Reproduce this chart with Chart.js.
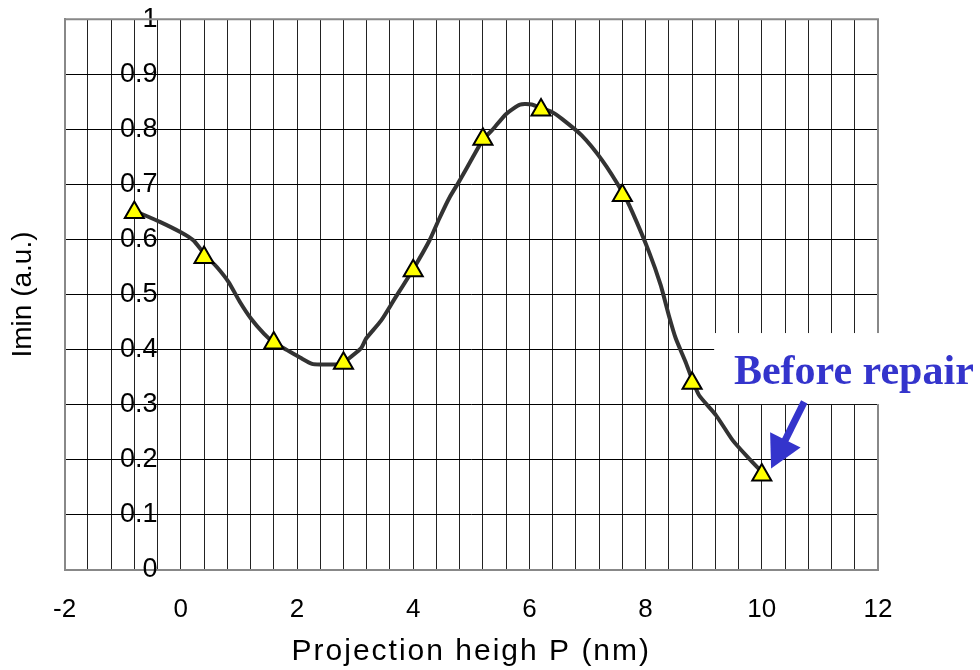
<!DOCTYPE html>
<html>
<head>
<meta charset="utf-8">
<script src="https://cdn.jsdelivr.net/npm/chart.js@4.4.1/dist/chart.umd.min.js"></script>
<style>
  html, body { margin: 0; padding: 0; background: #fff; }
  #wrap { width: 980px; height: 670px; }
</style>
</head>
<body>
<div id="wrap"><canvas id="chart" width="980" height="670"></canvas></div>
<script>
// Imin vs projection height

// fitted curve (dark line)
const curveX = [-0.8, -0.36, 0.0, 0.22, 0.44, 0.62, 0.82, 1.02, 1.21, 1.43, 1.6, 1.83, 2.06, 2.26, 2.41, 2.75, 2.8,
                3.1, 3.19, 3.45, 3.68, 4.0, 4.28, 4.45, 4.63, 4.8, 5.03, 5.2, 5.38, 5.6, 5.84, 6.04, 6.2, 6.38,
                6.56, 6.9, 7.25, 7.6, 7.77, 8.06, 8.26, 8.4, 8.52, 8.69, 8.8, 8.92, 9.21, 9.5, 9.78, 10.0];
const curveY = [0.652, 0.632, 0.613, 0.598, 0.569, 0.55, 0.523, 0.486, 0.456, 0.429, 0.413, 0.399, 0.385, 0.374, 0.373, 0.373, 0.376,
                0.402, 0.42, 0.453, 0.492, 0.546, 0.598, 0.638, 0.677, 0.707, 0.75, 0.781, 0.801, 0.828, 0.845, 0.845, 0.838, 0.832,
                0.819, 0.789, 0.744, 0.686, 0.65, 0.577, 0.517, 0.462, 0.42, 0.377, 0.346, 0.317, 0.281, 0.235, 0.202, 0.178];

// measured points (yellow triangles)
const markerX = [-0.8, 0.4, 1.6, 2.8, 4.0, 5.2, 6.2, 7.6, 8.8, 10.0];
const markerY = [0.649, 0.567, 0.412, 0.375, 0.543, 0.782, 0.835, 0.68, 0.339, 0.172];

// axes
const xLabelValues = [-2, 0, 2, 4, 6, 8, 10, 12];
const xGridStep = 0.4;
const yGridStep = 0.1;

// annotation (data coordinates)
const noteText = 'Before repair';
const noteTextAt = [9.52, 0.338];
const noteBox = [9.18, 0.301, 0.43];      // left x, bottom y, top y
const arrowFrom = [10.73, 0.305];
const arrowTo = [10.16, 0.184];

const blue = '#3434cc';
const sans = "'Liberation Sans', Arial, sans-serif";

const toPoints = (xs, ys) => xs.map((x, i) => ({ x: x, y: ys[i] }));

const frameAndNote = {
    id: 'frameAndNote',
    afterLayout(chart) {
        // x title is drawn with a little letter spacing, like the original
        const sx = chart.scales.x;
        if (sx && !sx._spacedTitle) {
            const orig = sx.drawTitle;
            sx.drawTitle = function () {
                this.ctx.save();
                this.ctx.letterSpacing = '2px';
                orig.call(this);
                this.ctx.restore();
            };
            sx._spacedTitle = true;
        }
    },
    beforeDatasetsDraw(chart) {
        const { ctx, chartArea: a, scales: { x, y } } = chart;
        ctx.save();
        // grey frame on top and right
        ctx.strokeStyle = '#888';
        ctx.lineWidth = 2;
        ctx.beginPath();
        ctx.moveTo(a.left, a.top);
        ctx.lineTo(a.right, a.top);
        ctx.lineTo(a.right, a.bottom);
        ctx.stroke();
        // white box behind the label hides the grid
        const left = x.getPixelForValue(noteBox[0]);
        const bottom = y.getPixelForValue(noteBox[1]);
        const top = y.getPixelForValue(noteBox[2]);
        ctx.fillStyle = '#fff';
        ctx.fillRect(left, top, chart.width - left, bottom - top);
        ctx.restore();
    },
    afterDatasetsDraw(chart) {
        const { ctx, scales: { x, y } } = chart;
        ctx.save();
        ctx.fillStyle = blue;
        ctx.font = "bold 42px 'Liberation Serif', 'Times New Roman', serif";
        ctx.textBaseline = 'alphabetic';
        ctx.fillText(noteText, x.getPixelForValue(noteTextAt[0]), y.getPixelForValue(noteTextAt[1]));

        // arrow
        const x0 = x.getPixelForValue(arrowFrom[0]), y0 = y.getPixelForValue(arrowFrom[1]);
        const x1 = x.getPixelForValue(arrowTo[0]), y1 = y.getPixelForValue(arrowTo[1]);
        const ang = Math.atan2(y1 - y0, x1 - x0);
        const headLen = 32, headHalf = 17;
        const bx = x1 - Math.cos(ang) * headLen, by = y1 - Math.sin(ang) * headLen;
        ctx.strokeStyle = blue;
        ctx.lineWidth = 7;
        ctx.beginPath();
        ctx.moveTo(x0, y0);
        ctx.lineTo(bx + Math.cos(ang) * 4, by + Math.sin(ang) * 4);
        ctx.stroke();
        ctx.beginPath();
        ctx.moveTo(x1, y1);
        ctx.lineTo(bx - Math.sin(ang) * headHalf, by + Math.cos(ang) * headHalf);
        ctx.lineTo(bx + Math.sin(ang) * headHalf, by - Math.cos(ang) * headHalf);
        ctx.closePath();
        ctx.fill();
        ctx.restore();
    }
};

new Chart(document.getElementById('chart'), {
    type: 'scatter',
    data: {
        datasets: [
            {
                label: 'measured',
                data: toPoints(markerX, markerY),
                pointStyle: 'triangle',
                pointRadius: 11,
                pointBackgroundColor: '#ffff00',
                pointBorderColor: '#000',
                pointBorderWidth: 2,
                showLine: false
            },
            {
                label: 'fit',
                data: toPoints(curveX, curveY),
                showLine: true,
                borderColor: '#333333',
                borderWidth: 4,
                tension: 0.2,
                pointRadius: 0
            }
        ]
    },
    options: {
        responsive: false,
        animation: false,
        layout: { padding: { left: 0, right: 102, top: 17, bottom: 0 } },
        plugins: {
            legend: { display: false },
            tooltip: { enabled: false }
        },
        scales: {
            x: {
                type: 'linear',
                position: 'bottom',
                min: -2,
                max: 12,
                grid: { color: '#222', lineWidth: 1, drawTicks: false },
                border: { color: '#888', width: 2 },
                ticks: {
                    stepSize: xGridStep,
                    autoSkip: false,
                    maxRotation: 0,
                    padding: 24,
                    color: '#000',
                    font: { family: sans, size: 26 },
                    callback: (v) => xLabelValues.some(t => Math.abs(t - v) < 1e-6) ? String(Math.round(v)) : ''
                },
                title: {
                    display: true,
                    text: 'Projection heigh P (nm)',
                    color: '#000',
                    font: { family: sans, size: 30 },
                    padding: { top: -15, bottom: 0 }
                }
            },
            y: {
                type: 'linear',
                position: { x: -0.4 },
                min: 0,
                max: 1,
                grid: { color: '#000', lineWidth: 1, drawTicks: false },
                border: { display: false },
                ticks: {
                    stepSize: yGridStep,
                    color: '#000',
                    font: { family: sans, size: 27 },
                    callback: (v) => String(Math.round(v * 10) / 10)
                }
            },
            yTitle: {
                type: 'linear',
                position: 'left',
                min: 0,
                max: 1,
                grid: { display: false, drawTicks: false },
                border: { color: '#888', width: 2 },
                ticks: { display: false },
                title: {
                    display: true,
                    text: 'Imin (a.u.)',
                    color: '#000',
                    font: { family: sans, size: 28 },
                    padding: { top: 6, bottom: 25 }
                }
            }
        }
    },
    plugins: [frameAndNote]
});
</script>
</body>
</html>
